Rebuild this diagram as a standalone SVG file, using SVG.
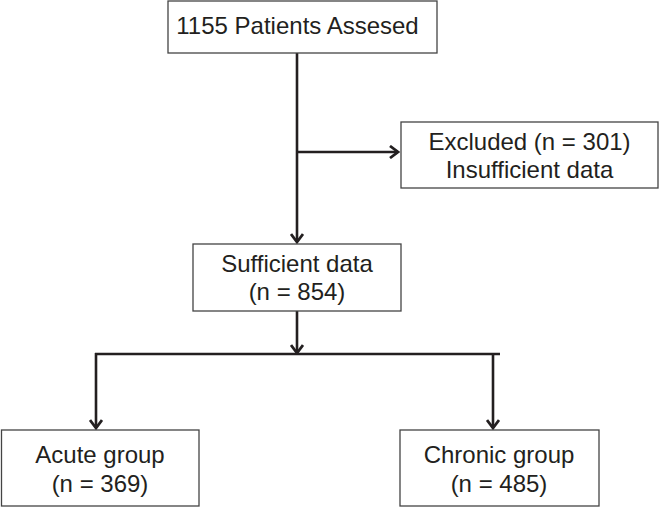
<svg xmlns="http://www.w3.org/2000/svg" width="664" height="507" viewBox="0 0 664 507">
<style>
.box{fill:#fff;stroke:#444;stroke-width:1.3}
.t{font-family:"Liberation Sans",Arial,sans-serif;font-size:24px;fill:#231f20;text-anchor:middle}
.c{fill:none;stroke:#231f20;stroke-width:2.6}
</style>
<defs>
<marker id="ah" viewBox="0 0 14 14" refX="12" refY="7" markerWidth="14" markerHeight="14" markerUnits="userSpaceOnUse" orient="auto">
<path d="M4,1 L12,7 L4,13" fill="none" stroke="#231f20" stroke-width="2.8"/>
</marker>
</defs>
<g id="connectors">
<path class="c" d="M297,53 V242" marker-end="url(#ah)"/>
<path class="c" d="M297,152 H398" marker-end="url(#ah)"/>
<path class="c" d="M297,311 V353" marker-end="url(#ah)"/>
<path class="c" d="M95,354 H500"/>
<path class="c" d="M96,353 V428" marker-end="url(#ah)"/>
<path class="c" d="M493,354 V428" marker-end="url(#ah)"/>
</g>
<g id="n1"><rect class="box" x="168" y="1" width="269" height="52"/><text class="t" x="297.5" y="34">1155 Patients Assesed</text></g>
<g id="n2"><rect class="box" x="401" y="122" width="257" height="66"/><text class="t" x="529.5" y="150">Excluded (n = 301)</text><text class="t" x="529.5" y="178">Insufficient data</text></g>
<g id="n3"><rect class="box" x="193" y="244" width="208" height="67"/><text class="t" x="297" y="272">Sufficient data</text><text class="t" x="297" y="300">(n = 854)</text></g>
<g id="n4"><rect class="box" x="1.5" y="430" width="197.5" height="76"/><text class="t" x="100" y="463">Acute group</text><text class="t" x="100" y="492">(n = 369)</text></g>
<g id="n5"><rect class="box" x="400" y="430" width="199" height="76"/><text class="t" x="499" y="463">Chronic group</text><text class="t" x="499" y="492">(n = 485)</text></g>
</svg>
